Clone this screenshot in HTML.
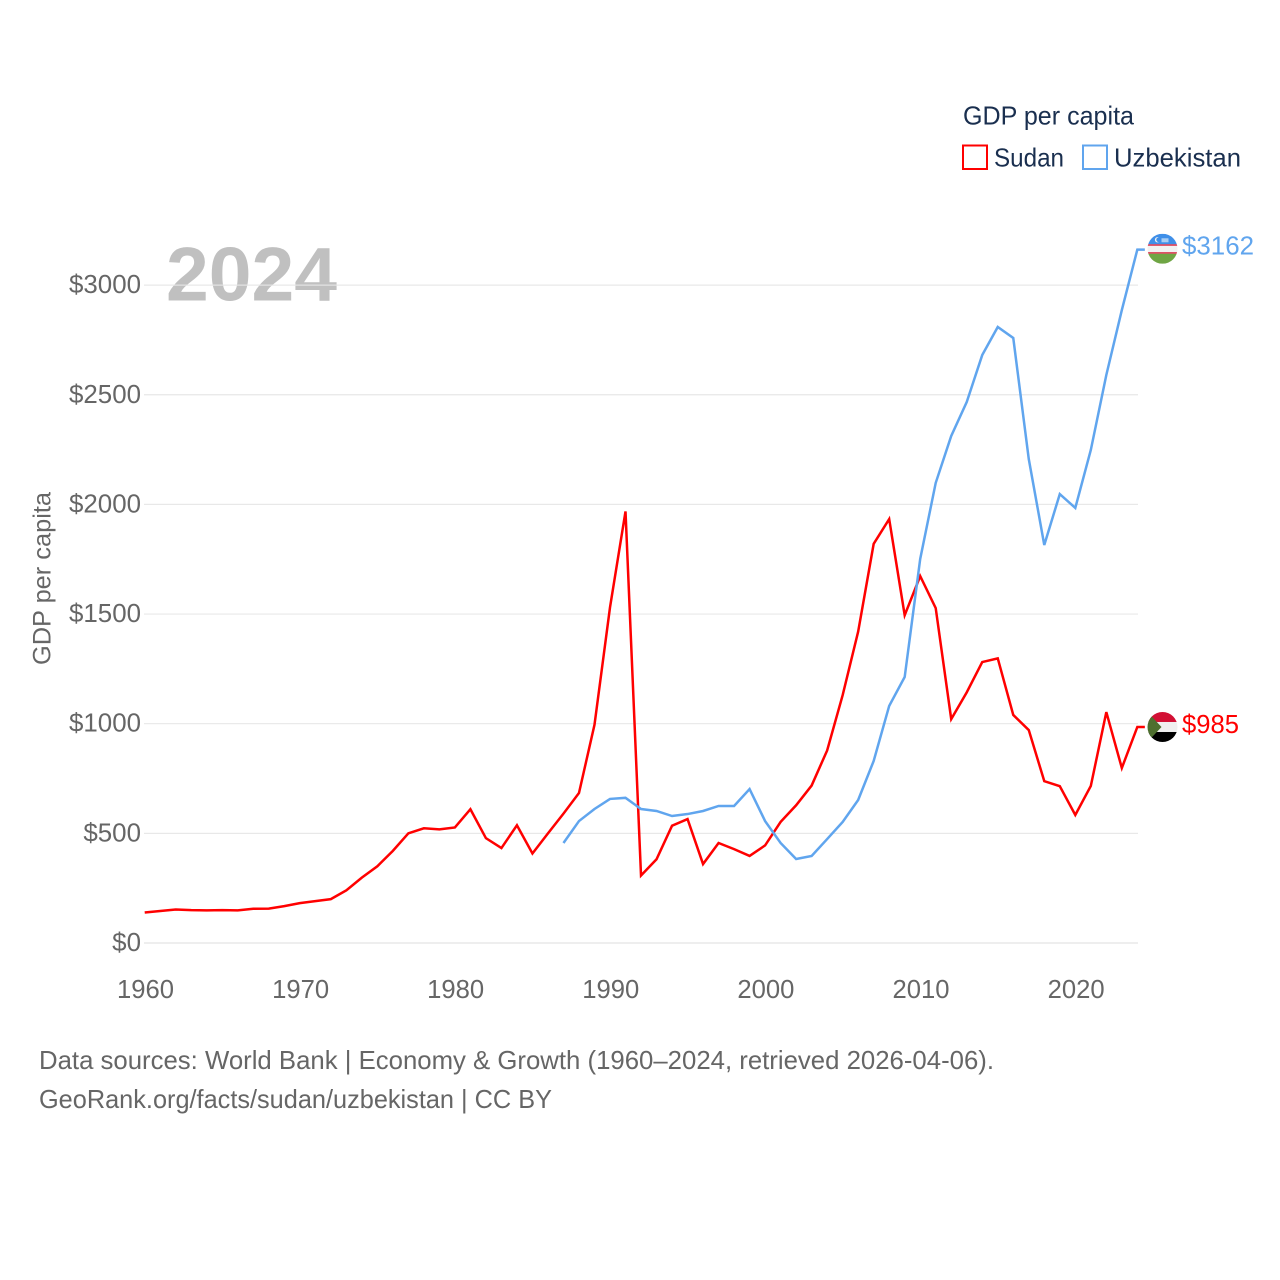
<!DOCTYPE html>
<html lang="en">
<head>
<meta charset="utf-8">
<title>GDP per capita: Sudan and Uzbekistan</title>
<style>
html,body{margin:0;padding:0;background:#fff}
svg{display:block;font-family:"Liberation Sans",Arial,sans-serif}
</style>
</head>
<body>
<svg id="chart" xmlns="http://www.w3.org/2000/svg" width="1280" height="1280" viewBox="0 0 1280 1280">
  <rect width="1280" height="1280" fill="#fff"/>
  <text x="166" y="300.5" font-size="76" font-weight="bold" fill="#c0c0c0" textLength="171" lengthAdjust="spacingAndGlyphs">2024</text>
  <g id="grid"></g>
  <g id="yticks"></g>
  <g id="xticks"></g>
  <text transform="translate(50.5,665) rotate(-90)" font-size="25" fill="#666" textLength="173" lengthAdjust="spacingAndGlyphs">GDP per capita</text>
  <g id="series"></g>

  <g>
    <text x="963" y="124.5" font-size="26" fill="#1a2f4f" textLength="171" lengthAdjust="spacingAndGlyphs">GDP per capita</text>
    <rect x="963" y="145.5" width="24" height="23.5" fill="none" stroke="#ff0000" stroke-width="2"/>
    <text x="994" y="166.5" font-size="26" fill="#1a2f4f" textLength="70" lengthAdjust="spacingAndGlyphs">Sudan</text>
    <rect x="1083" y="145.5" width="24" height="23.5" fill="none" stroke="#60a5ee" stroke-width="2"/>
    <text x="1114" y="166.5" font-size="26" fill="#1a2f4f" textLength="127" lengthAdjust="spacingAndGlyphs">Uzbekistan</text>
  </g>

  <defs>
    <clipPath id="clip-uz"><circle cx="0" cy="0" r="15"/></clipPath>
    <clipPath id="clip-sd"><circle cx="0" cy="0" r="15"/></clipPath>
  </defs>
  <g id="flag-uz" clip-path="url(#clip-uz)">
    <rect x="-15" y="-15" width="30" height="10.5" fill="#3f8fe8"/>
    <rect x="-15" y="-4.5" width="30" height="1.6" fill="#d9304a"/>
    <rect x="-15" y="-2.9" width="30" height="7.4" fill="#f2f2f2"/>
    <rect x="-15" y="3.4" width="30" height="1.6" fill="#d9304a"/>
    <rect x="-15" y="5" width="30" height="10" fill="#6fa544"/>
    <circle cx="-5" cy="-9" r="2.6" fill="#f2f2f2"/>
    <circle cx="-3.9" cy="-9" r="2.3" fill="#3f8fe8"/>
    <rect x="-1" y="-10.5" width="7" height="4" fill="#a9cdf3"/>
  </g>
  <g id="flag-sd" clip-path="url(#clip-sd)">
    <rect x="-15" y="-15" width="30" height="10" fill="#d21034"/>
    <rect x="-15" y="-5" width="30" height="10" fill="#f0f0f0"/>
    <rect x="-15" y="5" width="30" height="10" fill="#000"/>
    <polygon points="-15,-15 -1,0 -15,15" fill="#4e6f2f"/>
  </g>
  <text id="label-uz" x="1182" y="254" font-size="26" fill="#60a5ee" textLength="72" lengthAdjust="spacingAndGlyphs"></text>
  <text id="label-sd" x="1182" y="732" font-size="26" fill="#ff0000" textLength="57" lengthAdjust="spacingAndGlyphs"></text>

  <text x="39" y="1069" font-size="26" fill="#666" textLength="955" lengthAdjust="spacingAndGlyphs">Data sources: World Bank | Economy &amp; Growth (1960–2024, retrieved 2026-04-06).</text>
  <text x="39" y="1108" font-size="26" fill="#666" textLength="513" lengthAdjust="spacingAndGlyphs">GeoRank.org/facts/sudan/uzbekistan | CC BY</text>
</svg>
<script>
const yTickValues = [0, 500, 1000, 1500, 2000, 2500, 3000];
const xTickYears = [1960, 1970, 1980, 1990, 2000, 2010, 2020];
const sudanStartYear = 1960;
const sudanValues = [139,146,153,150,149,150,149,156,157,168,182,191,200,240,298,350,420,500,523,518,527,610,478,433,537,408,500,590,684,995,1530,1968,308,382,535,565,360,456,428,397,445,552,628,718,878,1130,1420,1820,1933,1495,1673,1527,1021,1143,1281,1298,1040,971,738,715,584,716,1053,798,985];
const uzbekistanStartYear = 1987;
const uzbekistanValues = [456,556,611,657,662,611,602,579,588,602,625,625,702,556,456,383,397,474,552,652,830,1081,1213,1751,2098,2312,2467,2681,2809,2759,2207,1815,2047,1984,2248,2590,2886,3162];

const SVG_NS = 'http://www.w3.org/2000/svg';
function xScale(year) { return 144.7 + (year - 1960) * 15.51; }
function yScale(value) { return 943 - value * 0.2193; }

const gridGroup = document.getElementById('grid');
const yTickGroup = document.getElementById('yticks');
const xTickGroup = document.getElementById('xticks');
const seriesGroup = document.getElementById('series');

yTickValues.forEach(function (value) {
  const line = document.createElementNS(SVG_NS, 'line');
  
  
  line.setAttribute('x1', 144);
  line.setAttribute('x2', 1138);
  line.setAttribute('y1', yScale(value));
  line.setAttribute('y2', yScale(value));
  line.setAttribute('stroke', value === 0 ? '#e2e2e2' : '#e6e6e6');
  line.setAttribute('stroke-width', 1.2);
  line.setAttribute('opacity', 0.9);
  gridGroup.appendChild(line);

  const label = document.createElementNS(SVG_NS, 'text');
  const text = '$' + value;
  
  
  label.setAttribute('x', 141);
  label.setAttribute('y', yScale(value) + 8);
  label.setAttribute('text-anchor', 'end');
  label.setAttribute('font-size', 25.5);
  label.setAttribute('fill', '#666');
  label.setAttribute('textLength', text.length * 14.4);
  label.setAttribute('lengthAdjust', 'spacingAndGlyphs');
  label.textContent = text;
  yTickGroup.appendChild(label);
});

xTickYears.forEach(function (year) {
  const label = document.createElementNS(SVG_NS, 'text');
  
  
  label.setAttribute('x', xScale(year) + 0.8);
  label.setAttribute('y', 998);
  label.setAttribute('text-anchor', 'middle');
  label.setAttribute('font-size', 25.5);
  label.setAttribute('fill', '#666');
  label.setAttribute('textLength', 57);
  label.setAttribute('lengthAdjust', 'spacingAndGlyphs');
  label.textContent = String(year);
  xTickGroup.appendChild(label);
});

function seriesPoints(startYear, values) {
  const pts = values.map(function (v, i) {
    return xScale(startYear + i).toFixed(2) + ',' + yScale(v).toFixed(2);
  });
  const last = values[values.length - 1];
  const lastX = xScale(startYear + values.length - 1);
  pts.push((lastX + 7.5).toFixed(2) + ',' + yScale(last).toFixed(2));
  return pts.join(' ');
}

const sudanLine = document.createElementNS(SVG_NS, 'polyline');


sudanLine.setAttribute('points', seriesPoints(sudanStartYear, sudanValues));
sudanLine.setAttribute('fill', 'none');
sudanLine.setAttribute('stroke', '#ff0000');
sudanLine.setAttribute('stroke-width', 2.5);
sudanLine.setAttribute('stroke-linejoin', 'miter');
seriesGroup.appendChild(sudanLine);

const uzbekistanLine = document.createElementNS(SVG_NS, 'polyline');


uzbekistanLine.setAttribute('points', seriesPoints(uzbekistanStartYear, uzbekistanValues));
uzbekistanLine.setAttribute('fill', 'none');
uzbekistanLine.setAttribute('stroke', '#60a5ee');
uzbekistanLine.setAttribute('stroke-width', 2.5);
uzbekistanLine.setAttribute('stroke-linejoin', 'miter');
seriesGroup.appendChild(uzbekistanLine);

const uzLast = uzbekistanValues[uzbekistanValues.length - 1];
const sdLast = sudanValues[sudanValues.length - 1];
document.getElementById('flag-uz').setAttribute('transform', 'translate(1162.5,' + (yScale(uzLast) - 0.8) + ')');
document.getElementById('flag-sd').setAttribute('transform', 'translate(1162.5,' + (yScale(sdLast) + 0) + ')');
const uzLabel = document.getElementById('label-uz');
const sdLabel = document.getElementById('label-sd');
uzLabel.textContent = '$' + uzLast;
uzLabel.setAttribute('y', yScale(uzLast) + 5);
sdLabel.textContent = '$' + sdLast;
sdLabel.setAttribute('y', yScale(sdLast) + 6);
</script>
</body>
</html>
